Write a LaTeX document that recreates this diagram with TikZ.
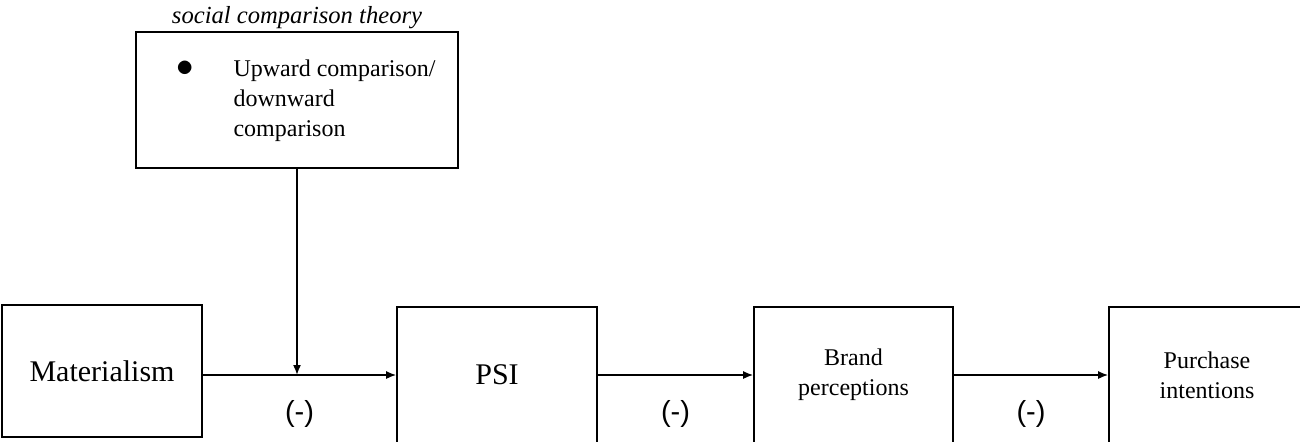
\documentclass[tikz,border=0pt]{standalone}
\usepackage{fontspec}
\setmainfont{Liberation Serif}
\newfontfamily\signfont{Liberation Sans}
\usetikzlibrary{arrows.meta,positioning}

\tikzset{
	box/.style={draw, line width=0.8pt, inner sep=0pt, align=center},
	bigtext/.style={font=\fontsize{15}{18}\selectfont},
	smalltext/.style={font=\fontsize{12}{15}\selectfont},
	arr/.style={line width=0.8pt, -{Latex[length=5pt,width=4pt]}},
	signlabel/.style={midway, yshift=-19.5pt, font=\signfont\fontsize{14.5}{17}\selectfont}
}

\begin{document}
\begin{tikzpicture}[x=0.5pt, y=-0.5pt]
			%%%%% START %%%%%
			
			\useasboundingbox (0, 0) rectangle (1300, 441);
			
			\node[box, smalltext, minimum width=161pt, minimum height=68pt] (theory) at (297, 100) {\begin{tabular}{@{\hspace{9pt}}p{28.5pt}@{}l@{}}\scalebox{1.45}{$\bullet$} & Upward comparison/\\ & downward\\ & comparison\end{tabular}};
			\node[above=0.8pt of theory, inner sep=0pt, font=\itshape\fontsize{12.3}{15}\selectfont] (scttitle) {social comparison theory};
			
			\node[box, bigtext, minimum width=100pt, minimum height=66pt] (mat) at (102, 371) {Materialism};
			\node[box, bigtext, minimum width=100pt, minimum height=68pt] (psi) at (497, 375) {PSI};
			\node[box, smalltext, minimum width=99.5pt, minimum height=68pt] (brand) at (853.5, 375) {Brand\\perceptions};
			\node[box, smalltext, minimum width=98pt, minimum height=68pt] (buy) at (1207, 375) {Purchase\\intentions};
			
			\draw[arr] (mat.east |- psi.west) -- node[signlabel] {(-)} (psi.west);
			\draw[arr] (psi.east) -- node[signlabel] {(-)} (brand.west);
			\draw[arr] (brand.east) -- node[signlabel] {(-)} (buy.west);
			
			\draw[arr] (theory.south) -- (theory.south |- psi.west);
			
			%%%%% END %%%%%
\end{tikzpicture}
\end{document}
